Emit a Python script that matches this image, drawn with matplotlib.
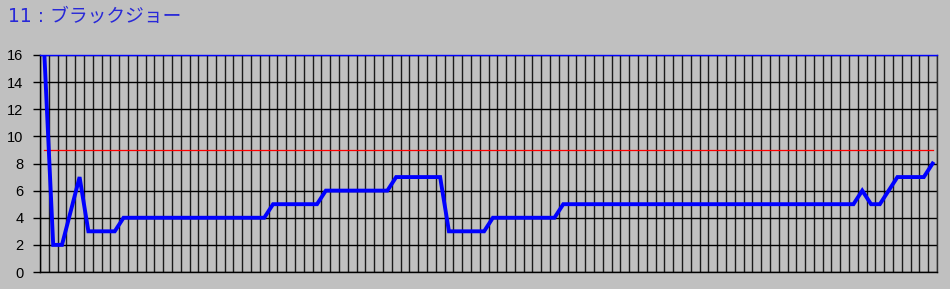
import numpy as np
import matplotlib
matplotlib.use('Agg')
import matplotlib.pyplot as plt

title = '11 : ブラックジョー'

# score per round
scores = [16, 2, 2, 4.5, 7, 3, 3, 3, 3,
          4, 4, 4, 4, 4, 4, 4, 4, 4, 4, 4, 4, 4, 4, 4, 4, 4,
          5, 5, 5, 5, 5, 5,
          6, 6, 6, 6, 6, 6, 6, 6,
          7, 7, 7, 7, 7, 7,
          3, 3, 3, 3, 3,
          4, 4, 4, 4, 4, 4, 4, 4,
          5, 5, 5, 5, 5, 5, 5, 5, 5, 5, 5, 5, 5, 5, 5, 5, 5,
          5, 5, 5, 5, 5, 5, 5, 5, 5, 5, 5, 5, 5, 5, 5, 5, 5,
          6, 5, 5, 6,
          7, 7, 7, 7,
          8]
target = 9
yticks = [0, 2, 4, 6, 8, 10, 12, 14, 16]

rounds = np.arange(len(scores))
bg = '#C0C0C0'

fig = plt.figure(figsize=(9.5, 2.89), dpi=100, facecolor=bg)
ax = fig.add_axes([40/950, 17/289, 897/950, 217/289], facecolor=bg)

ax.plot(rounds, [target]*len(rounds), color='#FF0000', lw=0.9, zorder=3)
ax.plot(rounds, scores, color='#0000FF', lw=2.8, zorder=4,
        solid_joinstyle='miter')

ax.set_xlim(-0.5, len(scores) - 0.5)
ax.set_ylim(0, 16)

ax.set_xticks(np.arange(-0.5, len(scores)))
ax.tick_params(axis='x', length=0, labelbottom=False)
ax.set_yticks(yticks)
ax.set_yticklabels([str(v) for v in yticks], family='Liberation Sans',
                   fontsize=10.5, color='#000000')
ax.tick_params(axis='y', length=5, width=1, color='#000000', pad=7)

ax.grid(axis='x', color='#1a1a1a', lw=1.0)
ax.grid(axis='y', color='#000000', lw=1.0)
ax.set_axisbelow(True)

for side in ['left', 'bottom', 'right']:
    ax.spines[side].set_color('#000000')
    ax.spines[side].set_linewidth(1.0)
ax.spines['right'].set_color('#303030')
ax.spines['top'].set_color('#0000FF')
ax.spines['top'].set_linewidth(1.0)

# DejaVu first for the digits and spaces, CJK font picks up the kana
fig.text(8/950, 1 - 22/289, title, family=['DejaVu Sans', 'Noto Sans CJK JP'],
         fontsize=13.5, color='#2828D8', va='baseline', ha='left')

fig.savefig('out.png', dpi=100, facecolor=bg)
